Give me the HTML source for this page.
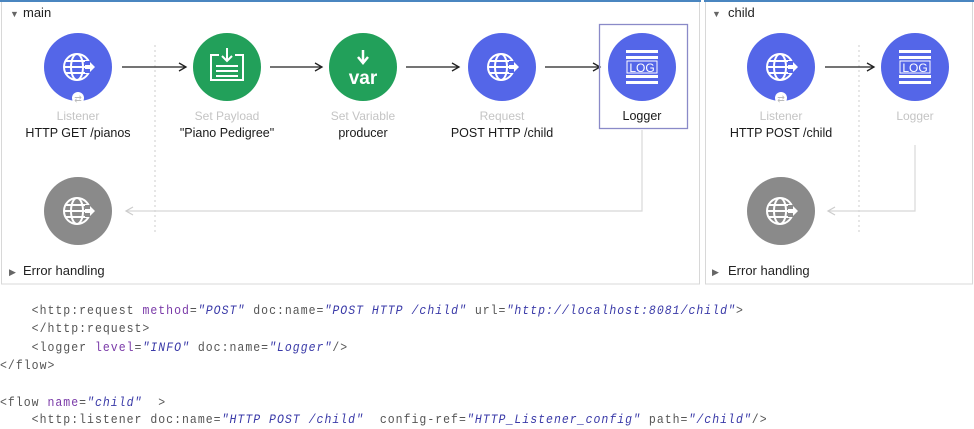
<!DOCTYPE html>
<html><head><meta charset="utf-8"><style>
html,body{margin:0;padding:0;background:#fff;width:974px;height:429px;overflow:hidden}
.code{position:absolute;left:0;font-family:"Liberation Mono",monospace;font-size:12.5px;letter-spacing:1.1px;color:#555;white-space:pre;transform:scaleX(0.92);transform-origin:left}
.a{color:#7a3aa8}.v{color:#3a3aa8;font-style:italic}
</style></head><body>
<svg width="974" height="290" style="position:absolute;left:0;top:0" font-family="Liberation Sans, sans-serif">
<defs>
<marker id="ar" markerWidth="10" markerHeight="10" refX="8" refY="5" orient="auto" markerUnits="userSpaceOnUse"><path d="M1,1 L8,5 L1,9" fill="none" stroke="#222" stroke-width="1.3"/></marker>
<marker id="ag" markerWidth="10" markerHeight="10" refX="8" refY="5" orient="auto" markerUnits="userSpaceOnUse"><path d="M1,1 L8,5 L1,9" fill="none" stroke="#ccc" stroke-width="1.2"/></marker>
<g id="globe" fill="none" stroke="#fff" stroke-width="2"><circle cx="-3" cy="0" r="13"/><ellipse cx="-3" cy="0" rx="6" ry="13"/><line x1="-16" y1="0" x2="10" y2="0"/><line x1="-14" y1="-6" x2="8" y2="-6"/><line x1="-14" y1="6" x2="8" y2="6"/><rect x="5" y="-6" width="8" height="12" fill="currentColor" stroke="none"/><path d="M5,-2 L10,-2 L10,-5 L15,0 L10,5 L10,2 L5,2Z" fill="#fff" stroke="none"/></g>
<g id="log" fill="#fff"><rect x="-16" y="-17" width="32" height="3"/><rect x="-16" y="-11" width="32" height="3"/><rect x="-16" y="8" width="32" height="3"/><rect x="-16" y="14" width="32" height="3"/><rect x="-15" y="-6" width="30" height="12" fill="none" stroke="#fff" stroke-width="1"/><text x="0" y="5" font-size="12" text-anchor="middle" fill="#fff">LOG</text></g>
</defs>
<!-- panels -->
<rect x="1.5" y="1" width="698" height="283" fill="#fff" stroke="#d8d8d8"/>
<rect x="0" y="0" width="701" height="2" fill="#4a86c0"/>
<rect x="705.5" y="1" width="267" height="283" fill="#fff" stroke="#d8d8d8"/>
<rect x="704" y="0" width="270" height="2" fill="#4a86c0"/>
<text x="10" y="17" font-size="9" fill="#666">▼</text><text x="23" y="17" font-size="13" fill="#222">main</text>
<text x="712" y="17" font-size="9" fill="#666">▼</text><text x="728" y="17" font-size="13" fill="#222">child</text>
<text x="9" y="275" font-size="9" fill="#666">▶</text><text x="23" y="275" font-size="13" fill="#222">Error handling</text>
<text x="712" y="275" font-size="9" fill="#666">▶</text><text x="728" y="275" font-size="13" fill="#222">Error handling</text>
<!-- dotted -->
<line x1="155" y1="45" x2="155" y2="232" stroke="#ccc" stroke-dasharray="2,3"/>
<line x1="859" y1="45" x2="859" y2="232" stroke="#ccc" stroke-dasharray="2,3"/>
<!-- return lines -->
<polyline points="642,130 642,211 126,211" fill="none" stroke="#d8d8d8" stroke-width="1.2" marker-end="url(#ag)"/>
<polyline points="915,145 915,211 828,211" fill="none" stroke="#d8d8d8" stroke-width="1.2" marker-end="url(#ag)"/>
<!-- arrows -->
<g stroke="#222" stroke-width="1.3">
<line x1="122" y1="67" x2="186" y2="67" marker-end="url(#ar)"/>
<line x1="270" y1="67" x2="322" y2="67" marker-end="url(#ar)"/>
<line x1="406" y1="67" x2="459" y2="67" marker-end="url(#ar)"/>
<line x1="545" y1="67" x2="600" y2="67" marker-end="url(#ar)"/>
<line x1="825" y1="67" x2="874" y2="67" marker-end="url(#ar)"/>
</g>
<!-- selection -->
<rect x="599.5" y="24.5" width="88" height="104" fill="none" stroke="#8a8ac8" stroke-width="1.3"/>
<!-- circles -->
<circle cx="78" cy="67" r="34" fill="#5466e8"/><use href="#globe" x="80" y="67" color="#5466e8"/>
<circle cx="78" cy="98" r="6" fill="#fff"/><text x="78" y="102" font-size="9" text-anchor="middle" fill="#bbb">⇄</text>
<circle cx="227" cy="67" r="34" fill="#22a05a"/>
<g fill="none" stroke="#fff" stroke-width="2"><path d="M219,55 L211,55 L211,80 L243,80 L243,55 L235,55"/><line x1="227" y1="48" x2="227" y2="60"/><path d="M222,56 L227,61 L232,56"/></g>
<g stroke="#fff" stroke-width="2"><line x1="216" y1="66" x2="238" y2="66"/><line x1="216" y1="71" x2="238" y2="71"/><line x1="216" y1="76" x2="238" y2="76"/></g>
<circle cx="363" cy="67" r="34" fill="#22a05a"/>
<g stroke="#fff" stroke-width="2.5" fill="none"><line x1="363" y1="50" x2="363" y2="62"/><path d="M358,57 L363,63 L368,57"/></g>
<text x="363" y="84" font-size="19" font-weight="bold" text-anchor="middle" fill="#fff">var</text>
<circle cx="502" cy="67" r="34" fill="#5466e8"/><use href="#globe" x="504" y="67" color="#5466e8"/>
<circle cx="642" cy="67" r="34" fill="#5466e8"/><use href="#log" x="642" y="67"/>
<circle cx="781" cy="67" r="34" fill="#5466e8"/><use href="#globe" x="783" y="67" color="#5466e8"/>
<circle cx="781" cy="98" r="6" fill="#fff"/><text x="781" y="102" font-size="9" text-anchor="middle" fill="#bbb">⇄</text>
<circle cx="915" cy="67" r="34" fill="#5466e8"/><use href="#log" x="915" y="67"/>
<circle cx="78" cy="211" r="34" fill="#8a8a8a"/><use href="#globe" x="80" y="211" color="#8a8a8a"/>
<circle cx="781" cy="211" r="34" fill="#8a8a8a"/><use href="#globe" x="783" y="211" color="#8a8a8a"/>
<!-- labels -->
<g font-size="12" text-anchor="middle" fill="#c4c4c4">
<text x="78" y="120">Listener</text><text x="227" y="120">Set Payload</text><text x="363" y="120">Set Variable</text><text x="502" y="120">Request</text>
<text x="781" y="120">Listener</text><text x="915" y="120">Logger</text>
</g>
<g font-size="12.5" text-anchor="middle" fill="#1a1a1a">
<text x="78" y="137">HTTP GET /pianos</text><text x="227" y="137">"Piano Pedigree"</text><text x="363" y="137">producer</text><text x="502" y="137">POST HTTP /child</text>
<text x="642" y="120">Logger</text><text x="781" y="137">HTTP POST /child</text>
</g>
</svg>
<div class="code" style="top:304px">    &lt;http:request <span class="a">method</span>=<span class="v">"POST"</span> doc:name=<span class="v">"POST HTTP /child"</span> url=<span class="v">"http://localhost:8081/child"</span>&gt;</div>
<div class="code" style="top:322px">    &lt;/http:request&gt;</div>
<div class="code" style="top:341px">    &lt;logger <span class="a">level</span>=<span class="v">"INFO"</span> doc:name=<span class="v">"Logger"</span>/&gt;</div>
<div class="code" style="top:359px">&lt;/flow&gt;</div>
<div class="code" style="top:396px">&lt;flow <span class="a">name</span>=<span class="v">"child"</span>  &gt;</div>
<div class="code" style="top:413px">    &lt;http:listener doc:name=<span class="v">"HTTP POST /child"</span>  config-ref=<span class="v">"HTTP_Listener_config"</span> path=<span class="v">"/child"</span>/&gt;</div>
</body></html>
